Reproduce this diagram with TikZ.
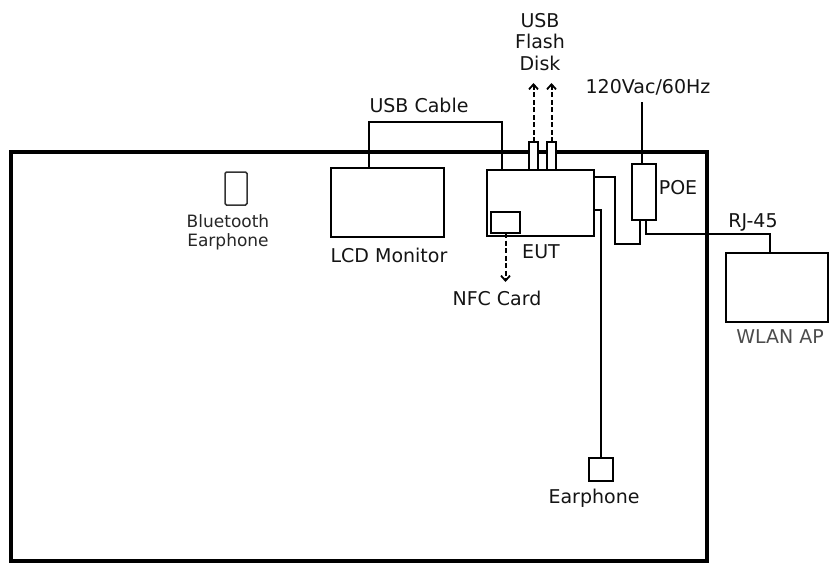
\documentclass[tikz,border=0pt]{standalone}
\usepackage{fontspec}
\setmainfont{DejaVu Sans}
\usetikzlibrary{arrows.meta}
\tikzset{
  box/.style={draw=black, line width=1.8pt, fill=white, inner sep=0pt, outer sep=0pt},
  lbl/.style={inner sep=0pt, text=black!92, font=\fontsize{19}{21.5}\selectfont, align=center},
  sublbl/.style={inner sep=0pt, text=black!85, font=\fontsize{17}{19}\selectfont, align=center},
  wire/.style={draw=black, line width=1.8pt},
  dasharrow/.style={draw=black, line width=2pt, dash pattern=on 5pt off 2.5pt, -{Straight Barb[length=5pt,width=9pt,line width=1.8pt]}},
  enclosure/.style={draw=black, line width=4.5pt}
}
\begin{document}
\begin{tikzpicture}[x=1pt,y=-1pt]
\useasboundingbox (0,0) rectangle (830,563);
% enclosure
\draw[enclosure] (11,152) rectangle (707,561);
% boxes
\node[box, minimum width=113, minimum height=69] (lcd) at (387.5,202.5) {};
\node[box, minimum width=107, minimum height=66] (eut) at (540.5,203) {};
\node[box, minimum width=29, minimum height=21] (nfc) at (505.5,222.5) {};
\node[box, minimum width=9, minimum height=28] (port1) at (533.5,156) {};
\node[box, minimum width=9, minimum height=28] (port2) at (551.5,156) {};
\node[box, minimum width=24, minimum height=56] (poe) at (644,192) {};
\node[box, minimum width=102, minimum height=69] (wlan) at (777,287.5) {};
\node[box, minimum width=24, minimum height=23] (earbox) at (601,469.5) {};
\node[box, draw=black!80, line width=1.5pt, rounded corners=1.5pt, minimum width=22, minimum height=33] (bt) at (236,188.5) {};
% coordinates
\coordinate (usbtop) at (502,122);
\coordinate (pwr) at (642,102);
\coordinate (flash1) at (533.5,83);
\coordinate (flash2) at (551.5,83);
\coordinate (nfcend) at (505.5,282);
% connectors
\draw[wire] ([xshift=-18.5pt]lcd.north) |- (usbtop) -- (usbtop |- eut.north);
\draw[wire] (pwr) -- (pwr |- poe.north);
\draw[wire] ([yshift=-7pt]eut.north east) -| ++(21,67) -| ([xshift=-4pt]poe.south);
\draw[wire] ([yshift=-40pt]eut.north east) -| (earbox.north);
\draw[wire] ([xshift=2pt]poe.south) |- ++(0,14) -| ([xshift=-7pt]wlan.north);
\draw[dasharrow] (port1.north) -- (flash1);
\draw[dasharrow] (port2.north) -- (flash2);
\draw[dasharrow] (nfc.south) -- (nfcend);
% labels
\node[lbl] (tusbc) at (419,105) {USB Cable};
\node[lbl] (tlcd) at (389,255) {LCD Monitor};
\node[lbl] (tflash) at (540,42) {USB\\Flash\\Disk};
\node[lbl] (tpwr) at (648,87) {120Vac/60Hz};
\node[lbl] (tpoe) at (678,188) {POE};
\node[lbl] (trj) at (753,222) {RJ-45};
\node[lbl, text=black!70] (twlan) at (780,337) {WLAN AP};
\node[lbl] (teut) at (541,252) {EUT};
\node[lbl] (tnfc) at (497,298) {NFC Card};
\node[lbl] (tear) at (594,498) {Earphone};
\node[sublbl] (tbt) at (228,232) {Bluetooth\\Earphone};
\end{tikzpicture}
\end{document}
